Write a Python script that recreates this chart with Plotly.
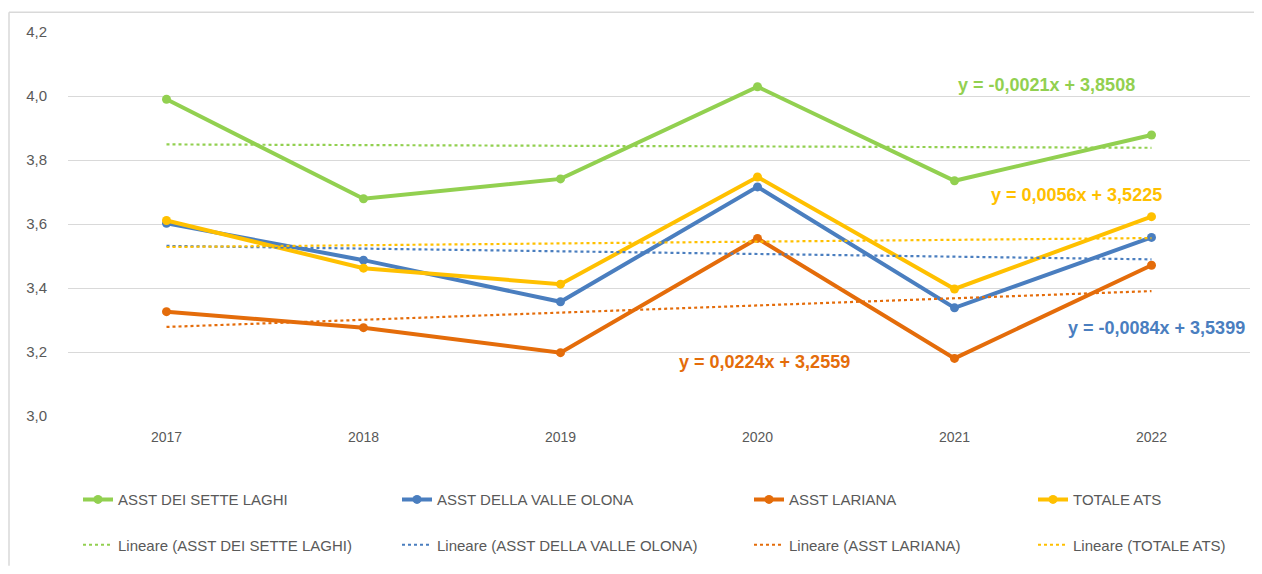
import plotly.graph_objects as go

years = ["2017", "2018", "2019", "2020", "2021", "2022"]
sette_laghi = [3.990, 3.679, 3.741, 4.029, 3.735, 3.878]
valle_olona = [3.602, 3.487, 3.357, 3.716, 3.338, 3.558]
lariana = [3.326, 3.276, 3.198, 3.555, 3.180, 3.471]
totale_ats = [3.611, 3.462, 3.412, 3.747, 3.397, 3.623]

names = ["ASST DEI SETTE LAGHI", "ASST DELLA VALLE OLONA", "ASST LARIANA", "TOTALE ATS"]
series = [sette_laghi, valle_olona, lariana, totale_ats]
colors = ["#92D050", "#4A7EBF", "#E46C0A", "#FFC000"]
slopes = [-0.0021, -0.0084, 0.0224, 0.0056]
intercepts = [3.8508, 3.5399, 3.2559, 3.5225]
eq_labels = ["y = -0,0021x + 3,8508", "y = -0,0084x + 3,5399",
             "y = 0,0224x + 3,2559", "y = 0,0056x + 3,5225"]

OFF = 8  # page body margin
W, H = 1246, 558
L, R, T, B = 60, 4, 24, 144
pw, ph = W - L - R, H - T - B


def px(xpage):
    return (xpage - OFF - L) / pw


def py(ypage):
    return (H - B - (ypage - OFF)) / ph


FONT = "Liberation Sans"
fig = go.Figure()

for i, (n, s, c) in enumerate(zip(names, series, colors)):
    fig.add_trace(go.Scatter(
        x=years, y=s, name=n, mode="lines+markers", showlegend=True,
        line=dict(color=c, width=4), marker=dict(color=c, size=9),
        legend="legend" if i == 0 else f"legend{i + 1}",
    ))

for i, (n, c, a, b) in enumerate(zip(names, colors, slopes, intercepts)):
    trend = [a * (k + 1) + b for k in range(len(years))]
    fig.add_trace(go.Scatter(
        x=years, y=trend, name=f"Lineare ({n})", mode="lines", showlegend=True,
        line=dict(color=c, width=2.2, dash="dot"),
        legend=f"legend{i + 5}",
    ))

text_starts = [118, 437, 789, 1073]
row_y = [507, 553]
legend_layout = {}
for i in range(8):
    key = "legend" if i == 0 else f"legend{i + 1}"
    col = i % 4
    row = i // 4
    legend_layout[key] = dict(
        x=(text_starts[col] - OFF - 40 - L) / pw, y=py(row_y[row]),
        xanchor="left", yanchor="middle",
        orientation="h", bgcolor="rgba(0,0,0,0)", visible=True,
        font=dict(family=FONT, size=15, color="#595959"),
    )

ann_pos = [(1046, 86), (1156, 333), (764, 367), (1076, 198)]
annotations = []
for (xp, yp), lab, c in zip(ann_pos, eq_labels, colors):
    annotations.append(dict(
        x=px(xp), y=py(yp), xref="paper", yref="paper", text=f"<b>{lab}</b>",
        showarrow=False, font=dict(family=FONT, size=18, color=c),
        xanchor="center", yanchor="middle",
    ))

shapes = [
    dict(type="line", xref="paper", yref="paper", x0=px(9), x1=px(1262), y0=py(12), y1=py(12),
         line=dict(color="#D9D9D9", width=1.5)),
    dict(type="line", xref="paper", yref="paper", x0=px(9), x1=px(9), y0=py(12), y1=py(574),
         line=dict(color="#D9D9D9", width=1.5)),
]

fig.update_layout(
    width=W, height=H,
    margin=dict(l=L, r=R, t=T, b=B),
    paper_bgcolor="white", plot_bgcolor="white",
    separators=",.",
    showlegend=True,
    annotations=annotations,
    shapes=shapes,
    xaxis=dict(type="category", range=[-0.5, 5.5], showgrid=False, showline=False,
               ticks="", ticklabelstandoff=11,
               tickfont=dict(family=FONT, size=14, color="#595959")),
    yaxis=dict(range=[3.0, 4.2], dtick=0.2, tickformat=".1f", showgrid=True,
               gridcolor="#D9D9D9", gridwidth=1.3, zeroline=False, showline=False,
               ticks="", ticklabelstandoff=20,
               tickfont=dict(family=FONT, size=15, color="#595959")),
    **legend_layout,
)

fig.write_html("out.html")
